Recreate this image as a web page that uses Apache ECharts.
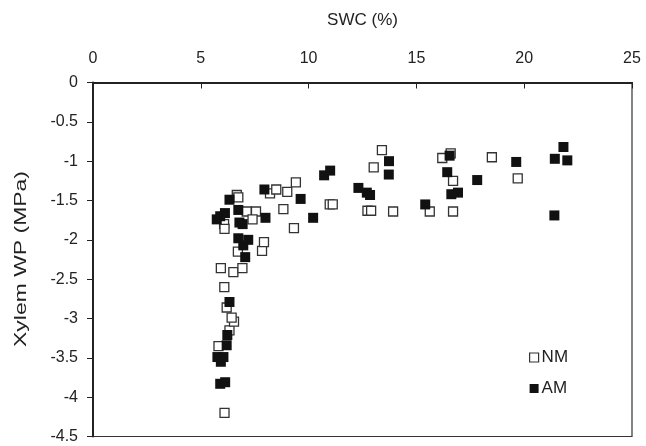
<!DOCTYPE html>
<html>
<head>
<meta charset="utf-8">
<script src="https://cdn.jsdelivr.net/npm/echarts@6/dist/echarts.min.js"></script>
<style>
  html, body { margin: 0; padding: 0; background: #fff; }
  #chart { width: 646px; height: 446px; }
</style>
</head>
<body>
<div id="chart"></div>
<script>
// Soil water content (%) vs xylem water potential (MPa)
const xTicks = [0, 5, 10, 15, 20, 25];
const yTicks = [0, -0.5, -1, -1.5, -2, -2.5, -3, -3.5, -4, -4.5];

// Non-mycorrhizal plants: [SWC, xylem WP]
const nmPoints = [
  [6.1, -4.2], [5.82, -3.35], [6.33, -3.15], [6.54, -3.04], [6.43, -2.99],
  [6.2, -2.86], [6.09, -2.6], [5.93, -2.36], [6.51, -2.41], [6.93, -2.36],
  [6.72, -2.15], [7.84, -2.14], [7.93, -2.03], [6.08, -1.8], [6.1, -1.86],
  [6.67, -1.43], [6.74, -1.46], [7.13, -1.64], [7.56, -1.64], [7.4, -1.74],
  [8.21, -1.41], [8.5, -1.36], [8.83, -1.61], [9.01, -1.39], [9.41, -1.27],
  [9.32, -1.85], [10.98, -1.55], [11.12, -1.55], [12.73, -1.63], [12.9, -1.63],
  [13.02, -1.08], [13.4, -0.86], [13.92, -1.64], [15.62, -1.64], [16.2, -0.96],
  [16.59, -0.9], [16.7, -1.25], [16.7, -1.64], [18.5, -0.95], [19.7, -1.22]
];

// Arbuscular-mycorrhizal plants: [SWC, xylem WP]
const amPoints = [
  [5.9, -3.83], [6.13, -3.81], [5.93, -3.55], [5.77, -3.49], [6.05, -3.49],
  [6.2, -3.34], [6.23, -3.21], [6.33, -2.79], [7.06, -2.22], [6.97, -2.07],
  [6.74, -1.98], [7.2, -2.0], [6.33, -1.49], [6.74, -1.62], [5.74, -1.74],
  [5.9, -1.7], [6.12, -1.66], [6.79, -1.78], [6.94, -1.8], [7.95, -1.36],
  [8.0, -1.72], [9.63, -1.48], [10.21, -1.72], [10.72, -1.18], [11.0, -1.12],
  [12.31, -1.34], [12.7, -1.4], [12.85, -1.43], [13.73, -1.0], [13.72, -1.17],
  [15.41, -1.55], [16.54, -0.93], [16.43, -1.14], [16.62, -1.42], [16.93, -1.4],
  [17.82, -1.24], [19.63, -1.01], [21.42, -0.97], [21.82, -0.82], [22.0, -0.99],
  [21.4, -1.69]
];

const yTitle = 'Xylem WP (MPa)';
const font = '"Liberation Sans", Arial, sans-serif';
const chart = echarts.init(document.getElementById('chart'), null, { renderer: 'canvas' });

chart.setOption({
  animation: false,
  backgroundColor: '#fff',
  grid: {
    left: 93, right: 14, top: 82.5, bottom: 9.5,
    show: true, borderColor: '#333', borderWidth: 1.2, backgroundColor: 'transparent'
  },
  // vertical axis title, drawn with a wider tracking along its length
  graphic: [{
    type: 'text',
    x: 21, y: 259,
    rotation: Math.PI / 2,
    scaleX: 1.35,
    style: {
      text: yTitle, font: '17px ' + font, fill: '#222',
      align: 'center', verticalAlign: 'middle'
    }
  }],
  legend: {
    orient: 'vertical',
    left: 524, top: 344,
    itemWidth: 9, itemHeight: 9, itemGap: 14,
    textStyle: { fontFamily: font, fontSize: 17, color: '#222', padding: [0, 0, 0, -2] },
    data: [
      { name: 'NM', icon: 'rect', itemStyle: { color: '#fff', borderColor: '#333', borderWidth: 1.2 } },
      { name: 'AM', icon: 'rect', itemStyle: { color: '#111' } }
    ]
  },
  xAxis: {
    type: 'value', position: 'top',
    min: xTicks[0], max: xTicks[xTicks.length - 1], interval: 5,
    name: 'SWC (%)', nameLocation: 'middle', nameGap: 54,
    nameTextStyle: { fontFamily: font, fontSize: 17, color: '#222' },
    axisLine: { show: true, lineStyle: { color: '#222', width: 2 } },
    axisTick: { show: true, inside: true, length: 6, lineStyle: { color: '#222', width: 1 } },
    axisLabel: { fontFamily: font, fontSize: 16, color: '#222', margin: 16 },
    splitLine: { show: false }
  },
  yAxis: {
    type: 'value',
    min: yTicks[yTicks.length - 1], max: yTicks[0], interval: 0.5,
    axisLine: { show: true, lineStyle: { color: '#222', width: 2 } },
    axisTick: { show: true, inside: false, length: 6, lineStyle: { color: '#222', width: 1 } },
    axisLabel: { fontFamily: font, fontSize: 16, color: '#222', margin: 15 },
    splitLine: { show: false }
  },
  series: [
    {
      name: 'NM', type: 'scatter', symbol: 'rect', symbolSize: 9,
      itemStyle: { color: '#fff', borderColor: '#333', borderWidth: 1.3, opacity: 1 },
      data: nmPoints
    },
    {
      name: 'AM', type: 'scatter', symbol: 'rect', symbolSize: 10,
      itemStyle: { color: '#111', opacity: 1 },
      data: amPoints
    }
  ]
});
</script>
</body>
</html>
